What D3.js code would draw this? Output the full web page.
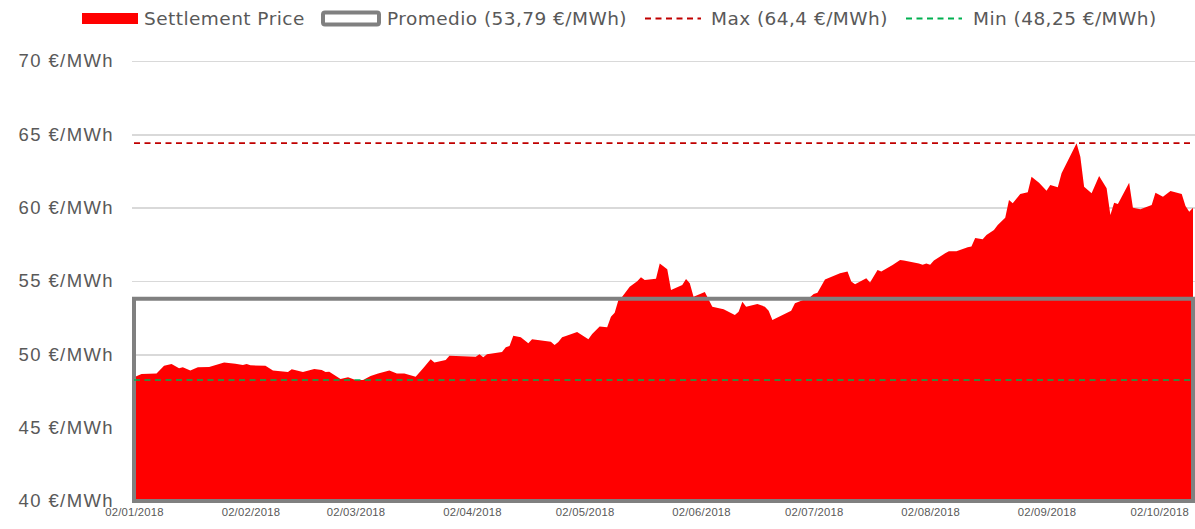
<!DOCTYPE html>
<html lang="es">
<head>
<meta charset="UTF-8">
<title>Settlement Price</title>
<script src="https://d3js.org/d3.v7.min.js"></script>
<style>
    html, body { margin: 0; padding: 0; background: #fff; }
    body { font-family: "DejaVu Sans", sans-serif; }
    .grid line { stroke: #d9d9d9; stroke-width: 1.5; shape-rendering: crispEdges; }
    .grid .domain { display: none; }
    .y-axis text { font-size: 18.5px; fill: #595959; letter-spacing: 1.4px; }
    .x-axis text { font-size: 11.3px; fill: #595959; letter-spacing: 0.2px; }
    .legend text { font-size: 18.5px; fill: #595959; letter-spacing: 0.45px; }
</style>
</head>
<body>
<svg width="1195" height="529"></svg>
<script>
// settlement prices (€/MWh)
const dates = [
    "2018-01-02","2018-01-04","2018-01-08","2018-01-10","2018-01-12","2018-01-14","2018-01-15","2018-01-17",
    "2018-01-19","2018-01-22","2018-01-26","2018-01-29","2018-01-31","2018-02-01","2018-02-02","2018-02-06",
    "2018-02-08","2018-02-12","2018-02-13","2018-02-16","2018-02-19","2018-02-21","2018-02-22","2018-02-23",
    "2018-02-26","2018-02-28","2018-03-02","2018-03-04","2018-03-06","2018-03-08","2018-03-11","2018-03-13",
    "2018-03-15","2018-03-18","2018-03-20","2018-03-22","2018-03-23","2018-03-26","2018-03-27","2018-04-03",
    "2018-04-04","2018-04-05","2018-04-06","2018-04-10","2018-04-11","2018-04-12","2018-04-13","2018-04-15",
    "2018-04-17","2018-04-18","2018-04-23","2018-04-24","2018-04-25","2018-04-26","2018-04-27","2018-04-30",
    "2018-05-03","2018-05-04","2018-05-06","2018-05-08","2018-05-09","2018-05-10","2018-05-11","2018-05-12",
    "2018-05-14","2018-05-16","2018-05-17","2018-05-18","2018-05-21","2018-05-22","2018-05-24","2018-05-25",
    "2018-05-28","2018-05-29","2018-05-30","2018-05-31","2018-06-03","2018-06-05","2018-06-08","2018-06-11",
    "2018-06-12","2018-06-13","2018-06-14","2018-06-17","2018-06-19","2018-06-20","2018-06-21","2018-06-26",
    "2018-06-27","2018-07-01","2018-07-02","2018-07-03","2018-07-05","2018-07-09","2018-07-11","2018-07-12",
    "2018-07-13","2018-07-16","2018-07-17","2018-07-19","2018-07-20","2018-07-23","2018-07-25","2018-07-26",
    "2018-07-30","2018-07-31","2018-08-01","2018-08-02","2018-08-03","2018-08-06","2018-08-07","2018-08-09",
    "2018-08-12","2018-08-13","2018-08-14","2018-08-16","2018-08-17","2018-08-19","2018-08-20","2018-08-22",
    "2018-08-23","2018-08-24","2018-08-26","2018-08-28","2018-08-29","2018-08-31","2018-09-02","2018-09-03",
    "2018-09-05","2018-09-06","2018-09-10","2018-09-11","2018-09-12","2018-09-14","2018-09-16","2018-09-18",
    "2018-09-19","2018-09-20","2018-09-21","2018-09-24","2018-09-25","2018-09-27","2018-09-30","2018-10-01",
    "2018-10-03","2018-10-05","2018-10-08","2018-10-09","2018-10-10","2018-10-11"
];
const prices = [
    48.43,48.66,48.70,49.22,49.34,49.05,49.12,48.90,
    49.12,49.14,49.45,49.36,49.27,49.34,49.25,49.22,
    48.90,48.80,48.98,48.80,49.00,48.93,48.80,48.82,
    48.32,48.43,48.25,48.25,48.52,48.70,48.89,48.70,
    48.70,48.48,49.05,49.66,49.45,49.61,49.90,49.84,
    50.00,49.80,50.00,50.16,50.48,50.57,51.27,51.16,
    50.75,51.02,50.86,50.64,50.84,51.16,51.25,51.52,
    51.02,51.39,51.89,51.84,52.57,52.84,53.70,53.93,
    54.61,54.98,55.25,55.07,55.16,56.20,55.80,54.39,
    54.73,55.14,54.84,53.93,54.25,53.25,53.07,52.68,
    52.90,53.59,53.25,53.43,53.25,52.98,52.34,52.98,
    53.48,53.89,54.11,54.20,55.11,55.52,55.64,54.96,
    54.77,55.18,54.89,55.75,55.64,56.09,56.43,56.39,
    56.20,56.11,56.20,56.11,56.39,56.89,57.02,57.02,
    57.30,57.36,57.93,57.84,58.14,58.48,58.82,59.32,
    60.52,60.30,60.93,61.05,62.11,61.70,61.16,61.55,
    61.39,62.34,64.40,63.48,61.43,60.98,62.16,61.32,
    59.50,60.34,60.25,61.70,60.00,59.89,60.18,61.02,
    60.75,61.14,60.93,60.11,59.73,60.00
];
const promedio = 53.79;
const maxPrice = 64.4;
const minPrice = 48.25;
const yTicks = [40, 45, 50, 55, 60, 65, 70];
const xTickDates = ["2018-01-02","2018-02-02","2018-03-02","2018-04-02","2018-05-02",
                    "2018-06-02","2018-07-02","2018-08-02","2018-09-02","2018-10-02"];
const legendLabels = ["Settlement Price", "Promedio (53,79 €/MWh)", "Max (64,4 €/MWh)", "Min (48,25 €/MWh)"];

const parse = d3.timeParse("%Y-%m-%d");
const data = dates.map((d, i) => ({ date: parse(d), value: prices[i] }));

const svg = d3.select("svg");
const plot = { left: 134, right: 1193, top: 61, bottom: 501 };

const x = d3.scaleTime()
    .domain(d3.extent(data, d => d.date))
    .range([plot.left, plot.right]);
const y = d3.scaleLinear()
    .domain([40, 70])
    .range([plot.bottom, plot.top]);

// gridlines
svg.append("g")
    .attr("class", "grid")
    .attr("transform", `translate(${plot.left - 2},0)`)
    .call(d3.axisLeft(y).tickValues(yTicks).tickSize(-(1195 - plot.left + 2)).tickFormat(""));

// price area
const area = d3.area()
    .x(d => x(d.date))
    .y0(y(40))
    .y1(d => y(d.value));
svg.append("path")
    .datum(data)
    .attr("fill", "#ff0000")
    .attr("d", area);

// promedio box
const first = data[0].date, last = data[data.length - 1].date;
svg.append("path")
    .attr("fill", "none")
    .attr("stroke", "#808080")
    .attr("stroke-width", 4)
    .attr("d", d3.area().x(d => x(d)).y0(y(40)).y1(y(promedio))([first, last]) + "Z");

// max / min lines
svg.append("line")
    .attr("x1", x(first)).attr("x2", x(last))
    .attr("y1", y(maxPrice)).attr("y2", y(maxPrice))
    .attr("stroke", "#c00000").attr("stroke-width", 1.8)
    .attr("stroke-dasharray", "6,4.5");
svg.append("line")
    .attr("x1", x(first)).attr("x2", x(last))
    .attr("y1", y(minPrice)).attr("y2", y(minPrice))
    .attr("stroke", "#00b050").attr("stroke-width", 1.8).attr("opacity", 0.75)
    .attr("stroke-dasharray", "6,4.5");

// y axis labels
const yAxis = svg.append("g")
    .attr("class", "y-axis")
    .attr("transform", "translate(114,0)")
    .call(d3.axisLeft(y).tickValues(yTicks).tickSize(0).tickPadding(0)
        .tickFormat(d => d + " €/MWh"));
yAxis.select(".domain").remove();

// x axis labels
const xAxis = svg.append("g")
    .attr("class", "x-axis")
    .attr("transform", "translate(0,506)")
    .call(d3.axisBottom(x).tickValues(xTickDates.map(parse)).tickSize(0).tickPadding(2)
        .tickFormat(d3.timeFormat("%d/%m/%Y")));
xAxis.select(".domain").remove();

// legend
const legend = svg.append("g").attr("class", "legend");
legend.append("rect").attr("x", 82).attr("y", 13).attr("width", 56).attr("height", 11).attr("fill", "#ff0000");
legend.append("text").attr("x", 144).attr("y", 25).text(legendLabels[0]);
legend.append("rect").attr("x", 323).attr("y", 12.5).attr("width", 56).attr("height", 12).attr("rx", 2)
    .attr("fill", "#fff").attr("stroke", "#808080").attr("stroke-width", 4);
legend.append("text").attr("x", 387).attr("y", 25).text(legendLabels[1]);
legend.append("line").attr("x1", 645).attr("x2", 701).attr("y1", 18.5).attr("y2", 18.5)
    .attr("stroke", "#c00000").attr("stroke-width", 1.8).attr("stroke-dasharray", "6,4.5");
legend.append("text").attr("x", 711).attr("y", 25).text(legendLabels[2]);
legend.append("line").attr("x1", 906).attr("x2", 962).attr("y1", 18.5).attr("y2", 18.5)
    .attr("stroke", "#00b050").attr("stroke-width", 1.8).attr("stroke-dasharray", "6,4.5");
legend.append("text").attr("x", 973).attr("y", 25).text(legendLabels[3]);
</script>
</body>
</html>
